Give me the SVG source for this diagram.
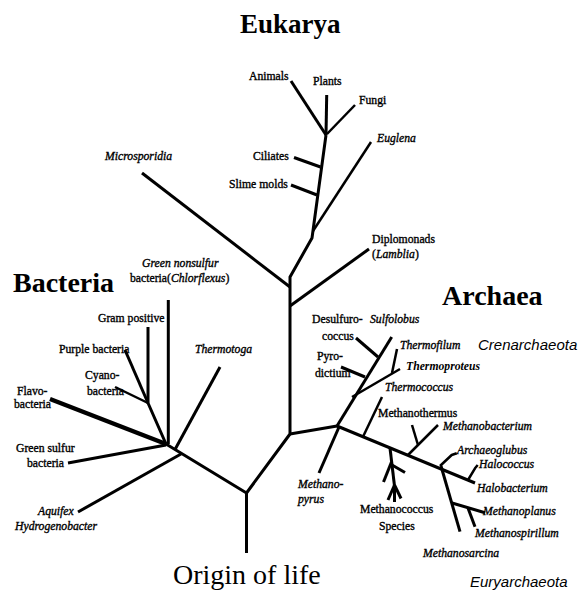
<svg xmlns="http://www.w3.org/2000/svg" width="588" height="592" viewBox="0 0 588 592">
<style>
.br{fill:none;stroke:#000;stroke-width:3;stroke-linecap:butt;stroke-linejoin:round}
.th{stroke-width:2.5}
.tk{stroke-width:4.5}
text{font-family:"Liberation Serif","Times New Roman",serif;fill:#000}
.lb{font-size:11.7px;stroke:#000;stroke-width:0.35}
.it{font-style:italic}
.bi{font-style:italic;font-weight:bold;stroke-width:0}
.big{font-size:28px;font-weight:bold}
.org{font-size:28px}
.sp{font-family:"Liberation Sans",Arial,sans-serif;font-style:italic;font-size:15px}
</style>
<rect width="588" height="592" fill="#fff"/>
<g id="connectors">
<polyline class="br" points="246.5,553 246.5,493 166,444"/>
<polyline class="br" points="246.5,493 290,434 290,277 312,238 326,135"/>
<line class="br" x1="290" y1="287" x2="142" y2="173"/>
<line class="br th" x1="313" y1="231" x2="371" y2="142"/>
<line class="br" x1="320.5" y1="167" x2="294" y2="157.5"/>
<line class="br" x1="317" y1="195" x2="291" y2="185"/>
<line class="br" x1="326" y1="135" x2="291" y2="81"/>
<line class="br" x1="326" y1="135" x2="326.7" y2="95"/>
<line class="br th" x1="327" y1="134" x2="355" y2="105"/>
<line class="br" x1="290" y1="306" x2="369" y2="249"/>
<line class="br" x1="168.3" y1="300" x2="168.3" y2="444"/>
<polyline class="br" points="148,327 148,403 166,444"/>
<line class="br" x1="125" y1="350" x2="148" y2="403"/>
<line class="br th" x1="115" y1="387" x2="148" y2="403"/>
<line class="br tk" x1="50" y1="399" x2="166" y2="444"/>
<line class="br" x1="166" y1="445" x2="68" y2="463"/>
<line class="br" x1="181" y1="454" x2="78" y2="512"/>
<line class="br" x1="175" y1="449.5" x2="220" y2="367"/>
<line class="br" x1="290" y1="434" x2="337" y2="426"/>
<line class="br" x1="337" y1="426" x2="391.7" y2="337"/>
<line class="br" x1="356" y1="338" x2="378" y2="357"/>
<line class="br" x1="341" y1="367" x2="365" y2="377"/>
<line class="br th" x1="352" y1="397" x2="400" y2="369"/>
<line class="br th" x1="397" y1="349" x2="392" y2="373"/>
<line class="br" x1="337" y1="426" x2="475" y2="483"/>
<line class="br" x1="339" y1="427" x2="319" y2="473"/>
<line class="br th" x1="363" y1="436.7" x2="382" y2="397"/>
<line class="br th" x1="408" y1="455" x2="438" y2="425"/>
<line class="br th" x1="412" y1="425" x2="418" y2="445"/>
<polyline class="br" points="390,448 394.5,486"/>
<line class="br" x1="391.5" y1="462" x2="383.5" y2="482"/>
<line class="br" x1="392" y1="465" x2="405" y2="472.5"/>
<line class="br" x1="394.5" y1="485" x2="388" y2="500"/>
<line class="br" x1="394.5" y1="485" x2="394.5" y2="502"/>
<line class="br" x1="394.5" y1="485" x2="401" y2="498.5"/>
<polyline class="br th" points="440,466 451.7,455 456.7,453.3"/>
<polyline class="br th" points="468,480 475,468.3 477.7,465"/>
<line class="br" x1="441" y1="466" x2="460" y2="531.7"/>
<line class="br" x1="452" y1="503" x2="485" y2="512.7"/>
<line class="br" x1="468" y1="508" x2="475" y2="526.7"/>
</g>
<g id="titles">
<text id="eukarya" class="big" x="240" y="33" style="font-size:27px">Eukarya</text>
<text id="bacteria" class="big" x="13" y="292">Bacteria</text>
<text id="archaea" class="big" x="442" y="305">Archaea</text>
<text id="origin" class="org" x="173" y="584">Origin of life</text>
<text id="crenarchaeota" class="sp" x="478" y="350">Crenarchaeota</text>
<text id="euryarchaeota" class="sp" x="470" y="587">Euryarchaeota</text>
</g>
<g id="eukarya-nodes">
<g id="animals"><text class="lb" x="249" y="80">Animals</text></g>
<g id="plants"><text class="lb" x="313" y="85">Plants</text></g>
<g id="fungi"><text class="lb" x="359" y="104">Fungi</text></g>
<g id="euglena"><text class="lb it" x="377" y="142">Euglena</text></g>
<g id="ciliates"><text class="lb" x="253" y="160">Ciliates</text></g>
<g id="slime-molds"><text class="lb" x="229" y="188">Slime molds</text></g>
<g id="microsporidia"><text class="lb it" x="105" y="160">Microsporidia</text></g>
<g id="diplomonads"><text class="lb" x="372" y="243">Diplomonads</text><text class="lb" x="372" y="258">(<tspan class="it">Lamblia</tspan>)</text></g>
</g>
<g id="bacteria-nodes">
<g id="green-nonsulfur"><text class="lb it" x="142" y="267">Green nonsulfur</text><text class="lb" x="130" y="282">bacteria(<tspan class="it">Chlorflexus</tspan>)</text></g>
<g id="gram-positive"><text class="lb" x="98" y="322">Gram positive</text></g>
<g id="purple-bacteria"><text class="lb" x="59" y="353">Purple bacteria</text></g>
<g id="cyanobacteria"><text class="lb" x="85" y="379">Cyano-</text><text class="lb" x="87" y="395">bacteria</text></g>
<g id="flavobacteria"><text class="lb" x="17" y="395">Flavo-</text><text class="lb" x="14" y="408">bacteria</text></g>
<g id="thermotoga"><text class="lb it" x="195" y="353">Thermotoga</text></g>
<g id="green-sulfur"><text class="lb" x="16" y="452">Green sulfur</text><text class="lb" x="27" y="467">bacteria</text></g>
<g id="aquifex"><text class="lb it" x="38" y="515">Aquifex</text><text class="lb it" x="15" y="530">Hydrogenobacter</text></g>
</g>
<g id="archaea-nodes">
<g id="desulfurococcus"><text class="lb" x="312" y="323">Desulfuro-</text><text class="lb" x="322" y="340">coccus</text></g>
<g id="sulfolobus"><text class="lb it" x="370" y="323">Sulfolobus</text></g>
<g id="thermofilum"><text class="lb it" x="400" y="349">Thermofilum</text></g>
<g id="pyrodictium"><text class="lb" x="317" y="360">Pyro-</text><text class="lb" x="315" y="377">dictium</text></g>
<g id="thermoproteus"><text class="lb bi" x="406" y="370">Thermoproteus</text></g>
<g id="thermococcus"><text class="lb it" x="385" y="391">Thermococcus</text></g>
<g id="methanothermus"><text class="lb" x="378" y="417">Methanothermus</text></g>
<g id="methanobacterium"><text class="lb it" x="443" y="430">Methanobacterium</text></g>
<g id="archaeoglubus"><text class="lb it" x="457" y="454">Archaeoglubus</text></g>
<g id="halococcus"><text class="lb it" x="479" y="468">Halococcus</text></g>
<g id="halobacterium"><text class="lb it" x="477" y="492">Halobacterium</text></g>
<g id="methanoplanus"><text class="lb it" x="483" y="515">Methanoplanus</text></g>
<g id="methanospirillum"><text class="lb it" x="475" y="537">Methanospirillum</text></g>
<g id="methanosarcina"><text class="lb it" x="423" y="557">Methanosarcina</text></g>
<g id="methanopyrus"><text class="lb it" x="298" y="488">Methano-</text><text class="lb it" x="298" y="503">pyrus</text></g>
<g id="methanococcus"><text class="lb" x="360" y="513">Methanococcus</text><text class="lb" x="379" y="530">Species</text></g>
</g>
</svg>
